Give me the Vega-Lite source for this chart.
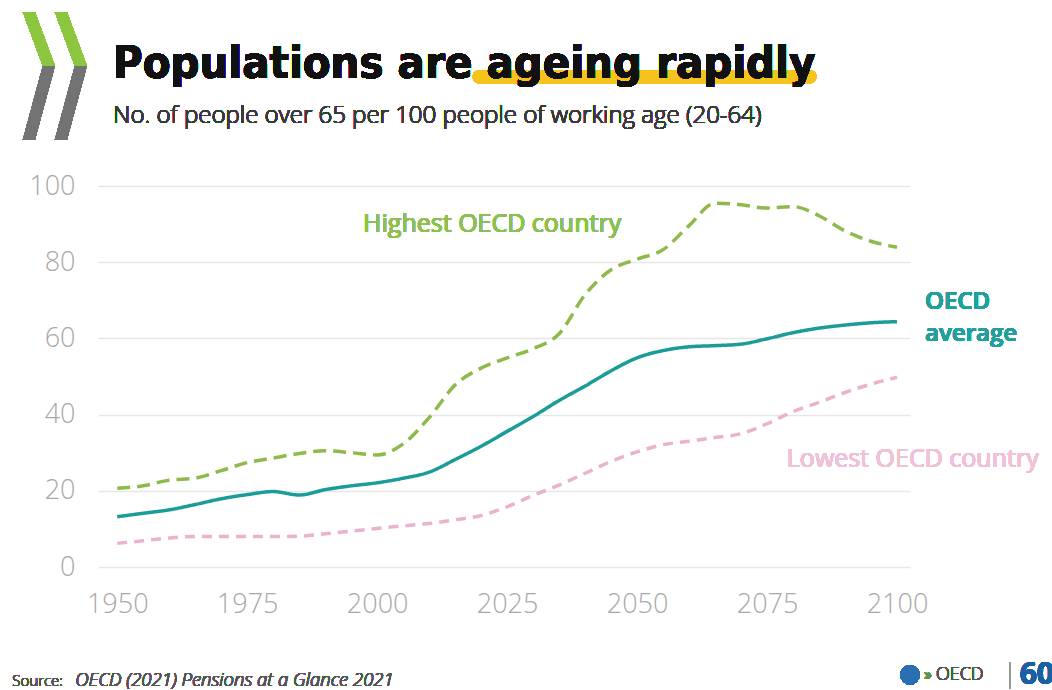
{
  "$schema": "https://vega.github.io/schema/vega-lite/v6.json",
  "width": 812,
  "height": 381,
  "autosize": {"type": "none"},
  "padding": {"left": 98, "top": 186, "right": 142, "bottom": 123},
  "background": "white",
  "config": {
    "view": {"stroke": null},
    "axis": {
      "domain": false,
      "ticks": false,
      "labelFont": "Open Sans",
      "labelFontSize": 27,
      "labelFontWeight": 300,
      "labelColor": "#a8a8a8",
      "titleColor": "#a8a8a8"
    }
  },
  "data": {
    "values": [
      {"year": 1950, "series": "Highest OECD country", "value": 20.7},
      {"year": 1955, "series": "Highest OECD country", "value": 21.3},
      {"year": 1960, "series": "Highest OECD country", "value": 22.8},
      {"year": 1965, "series": "Highest OECD country", "value": 23.3},
      {"year": 1970, "series": "Highest OECD country", "value": 25.3},
      {"year": 1975, "series": "Highest OECD country", "value": 27.4},
      {"year": 1980, "series": "Highest OECD country", "value": 28.6},
      {"year": 1985, "series": "Highest OECD country", "value": 29.8},
      {"year": 1990, "series": "Highest OECD country", "value": 30.5},
      {"year": 1995, "series": "Highest OECD country", "value": 30.0},
      {"year": 2000, "series": "Highest OECD country", "value": 29.4},
      {"year": 2005, "series": "Highest OECD country", "value": 32.3},
      {"year": 2010, "series": "Highest OECD country", "value": 39.2},
      {"year": 2015, "series": "Highest OECD country", "value": 47.8},
      {"year": 2020, "series": "Highest OECD country", "value": 52.2},
      {"year": 2025, "series": "Highest OECD country", "value": 54.9},
      {"year": 2030, "series": "Highest OECD country", "value": 57.3},
      {"year": 2035, "series": "Highest OECD country", "value": 61.2},
      {"year": 2040, "series": "Highest OECD country", "value": 71.5},
      {"year": 2045, "series": "Highest OECD country", "value": 78.0},
      {"year": 2050, "series": "Highest OECD country", "value": 80.8},
      {"year": 2055, "series": "Highest OECD country", "value": 83.3},
      {"year": 2060, "series": "Highest OECD country", "value": 89.6},
      {"year": 2065, "series": "Highest OECD country", "value": 95.5},
      {"year": 2070, "series": "Highest OECD country", "value": 95.1},
      {"year": 2075, "series": "Highest OECD country", "value": 94.2},
      {"year": 2080, "series": "Highest OECD country", "value": 94.6},
      {"year": 2085, "series": "Highest OECD country", "value": 92.2},
      {"year": 2090, "series": "Highest OECD country", "value": 88.2},
      {"year": 2095, "series": "Highest OECD country", "value": 85.5},
      {"year": 2100, "series": "Highest OECD country", "value": 83.9},
      {"year": 1950, "series": "OECD average", "value": 13.2},
      {"year": 1955, "series": "OECD average", "value": 14.1},
      {"year": 1960, "series": "OECD average", "value": 15.0},
      {"year": 1965, "series": "OECD average", "value": 16.4},
      {"year": 1970, "series": "OECD average", "value": 17.9},
      {"year": 1975, "series": "OECD average", "value": 19.0},
      {"year": 1980, "series": "OECD average", "value": 19.8},
      {"year": 1985, "series": "OECD average", "value": 18.9},
      {"year": 1990, "series": "OECD average", "value": 20.3},
      {"year": 1995, "series": "OECD average", "value": 21.3},
      {"year": 2000, "series": "OECD average", "value": 22.1},
      {"year": 2005, "series": "OECD average", "value": 23.3},
      {"year": 2010, "series": "OECD average", "value": 24.9},
      {"year": 2015, "series": "OECD average", "value": 28.2},
      {"year": 2020, "series": "OECD average", "value": 31.7},
      {"year": 2025, "series": "OECD average", "value": 35.6},
      {"year": 2030, "series": "OECD average", "value": 39.5},
      {"year": 2035, "series": "OECD average", "value": 43.7},
      {"year": 2040, "series": "OECD average", "value": 47.5},
      {"year": 2045, "series": "OECD average", "value": 51.5},
      {"year": 2050, "series": "OECD average", "value": 54.9},
      {"year": 2055, "series": "OECD average", "value": 56.8},
      {"year": 2060, "series": "OECD average", "value": 57.8},
      {"year": 2065, "series": "OECD average", "value": 58.1},
      {"year": 2070, "series": "OECD average", "value": 58.5},
      {"year": 2075, "series": "OECD average", "value": 59.9},
      {"year": 2080, "series": "OECD average", "value": 61.5},
      {"year": 2085, "series": "OECD average", "value": 62.7},
      {"year": 2090, "series": "OECD average", "value": 63.5},
      {"year": 2095, "series": "OECD average", "value": 64.1},
      {"year": 2100, "series": "OECD average", "value": 64.4},
      {"year": 1950, "series": "Lowest OECD country", "value": 6.2},
      {"year": 1955, "series": "Lowest OECD country", "value": 6.9},
      {"year": 1960, "series": "Lowest OECD country", "value": 7.6},
      {"year": 1965, "series": "Lowest OECD country", "value": 8.0},
      {"year": 1970, "series": "Lowest OECD country", "value": 8.0},
      {"year": 1975, "series": "Lowest OECD country", "value": 8.0},
      {"year": 1980, "series": "Lowest OECD country", "value": 8.0},
      {"year": 1985, "series": "Lowest OECD country", "value": 8.1},
      {"year": 1990, "series": "Lowest OECD country", "value": 8.7},
      {"year": 1995, "series": "Lowest OECD country", "value": 9.4},
      {"year": 2000, "series": "Lowest OECD country", "value": 10.1},
      {"year": 2005, "series": "Lowest OECD country", "value": 10.8},
      {"year": 2010, "series": "Lowest OECD country", "value": 11.4},
      {"year": 2015, "series": "Lowest OECD country", "value": 12.4},
      {"year": 2020, "series": "Lowest OECD country", "value": 13.5},
      {"year": 2025, "series": "Lowest OECD country", "value": 15.8},
      {"year": 2030, "series": "Lowest OECD country", "value": 18.8},
      {"year": 2035, "series": "Lowest OECD country", "value": 21.5},
      {"year": 2040, "series": "Lowest OECD country", "value": 24.6},
      {"year": 2045, "series": "Lowest OECD country", "value": 27.7},
      {"year": 2050, "series": "Lowest OECD country", "value": 30.2},
      {"year": 2055, "series": "Lowest OECD country", "value": 32.1},
      {"year": 2060, "series": "Lowest OECD country", "value": 33.0},
      {"year": 2065, "series": "Lowest OECD country", "value": 34.0},
      {"year": 2070, "series": "Lowest OECD country", "value": 35.0},
      {"year": 2075, "series": "Lowest OECD country", "value": 37.6},
      {"year": 2080, "series": "Lowest OECD country", "value": 40.8},
      {"year": 2085, "series": "Lowest OECD country", "value": 43.2},
      {"year": 2090, "series": "Lowest OECD country", "value": 45.8},
      {"year": 2095, "series": "Lowest OECD country", "value": 48.0},
      {"year": 2100, "series": "Lowest OECD country", "value": 49.8}
    ]
  },
  "layer": [
    {
      "mark": {"type": "rect", "color": "#f6c21c", "cornerRadius": 6, "clip": false},
      "encoding": {
        "x": {"datum": 2018.4, "type": "quantitative", "scale": {"domain": [1946.3, 2102.5]}},
        "x2": {"datum": 2084.5},
        "y": {"datum": 130.4, "type": "quantitative", "scale": {"domain": [0, 100]}},
        "y2": {"datum": 127.0}
      }
    },
    {
      "mark": {"type": "text", "font": "DejaVu Sans Condensed, DejaVu Sans, sans-serif", "fontSize": 45, "fontWeight": "bold", "color": "#111111", "align": "left", "baseline": "alphabetic"},
      "encoding": {"x": {"datum": 1949.2}, "y": {"datum": 128.4}, "text": {"value": "Populations are ageing rapidly"}}
    },
    {
      "mark": {"type": "text", "font": "Open Sans", "fontSize": 24, "fontWeight": 300, "color": "#3a3a3a", "align": "left", "baseline": "alphabetic"},
      "encoding": {"x": {"datum": 1949.2}, "y": {"datum": 116.5}, "text": {"value": "No. of people over 65 per 100 people of working age (20-64)"}}
    },
    {
      "mark": {"type": "line", "interpolate": "monotone", "strokeWidth": 3.5},
      "encoding": {
        "x": {
          "field": "year",
          "type": "quantitative",
          "scale": {"domain": [1946.3, 2102.5], "nice": false, "zero": false},
          "axis": {"values": [1950, 1975, 2000, 2025, 2050, 2075, 2100], "format": "d", "title": null, "grid": false, "labelPadding": 24}
        },
        "y": {
          "field": "value",
          "type": "quantitative",
          "scale": {"domain": [0, 100], "nice": false},
          "axis": {"values": [0, 20, 40, 60, 80, 100], "title": null, "grid": true, "gridColor": "#e6e6e6", "gridWidth": 1.5, "labelPadding": 23}
        },
        "color": {
          "field": "series",
          "type": "nominal",
          "scale": {"domain": ["Highest OECD country", "OECD average", "Lowest OECD country"], "range": ["#8dba4a", "#1a9c98", "#eab2cf"]},
          "legend": null
        },
        "strokeDash": {
          "field": "series",
          "type": "nominal",
          "scale": {"domain": ["Highest OECD country", "OECD average", "Lowest OECD country"], "range": [[13, 7], [1, 0], [10, 7]]},
          "legend": null
        }
      }
    },
    {
      "mark": {"type": "text", "font": "Open Sans", "fontSize": 25, "color": "#8cc152", "align": "left", "baseline": "alphabetic"},
      "encoding": {"x": {"datum": 1997.3}, "y": {"datum": 87.9}, "text": {"value": "Highest OECD country"}}
    },
    {
      "mark": {"type": "text", "font": "Open Sans", "fontSize": 24, "fontWeight": 600, "color": "#23a09b", "align": "left", "baseline": "alphabetic"},
      "encoding": {"x": {"datum": 2105.4}, "y": {"datum": 67.7}, "text": {"value": "OECD"}}
    },
    {
      "mark": {"type": "text", "font": "Open Sans", "fontSize": 24, "fontWeight": 600, "color": "#23a09b", "align": "left", "baseline": "alphabetic"},
      "encoding": {"x": {"datum": 2105.4}, "y": {"datum": 59.3}, "text": {"value": "average"}}
    },
    {
      "mark": {"type": "text", "font": "Open Sans", "fontSize": 25, "color": "#f0c2da", "align": "left", "baseline": "alphabetic"},
      "encoding": {"x": {"datum": 2078.8}, "y": {"datum": 26.2}, "text": {"value": "Lowest OECD country"}}
    },
    {
      "mark": {"type": "point", "filled": true, "strokeWidth": 0, "opacity": 1, "color": "#8cc63f", "size": 16129,
        "shape": "M-0.504,-1.024L-0.315,-1.024L0,-0.173L-0.189,-0.173Z M0,-1.024L0.189,-1.024L0.504,-0.173L0.315,-0.173Z"},
      "encoding": {"x": {"datum": 1938.0}, "y": {"datum": 128.6}}
    },
    {
      "mark": {"type": "point", "filled": true, "strokeWidth": 0, "opacity": 1, "color": "#737373", "size": 16129,
        "shape": "M-0.189,-0.173L0,-0.173L-0.315,0.992L-0.504,0.992Z M0.315,-0.173L0.504,-0.173L0.189,0.992L0,0.992Z"},
      "encoding": {"x": {"datum": 1938.0}, "y": {"datum": 128.6}}
    },
    {
      "mark": {"type": "text", "font": "Open Sans", "fontSize": 15, "fontWeight": 300, "color": "#555555", "align": "left", "baseline": "alphabetic"},
      "encoding": {"x": {"datum": 1929.8}, "y": {"datum": -31.2}, "text": {"value": "Source:"}}
    },
    {
      "mark": {"type": "text", "font": "Open Sans", "fontSize": 18.5, "fontWeight": 300, "fontStyle": "italic", "color": "#555555", "align": "left", "baseline": "alphabetic"},
      "encoding": {"x": {"datum": 1941.9}, "y": {"datum": -31.2}, "text": {"value": "OECD (2021) Pensions at a Glance 2021"}}
    },
    {
      "mark": {"type": "point", "filled": true, "strokeWidth": 0, "opacity": 1, "color": "#2a6fb0", "size": 380, "shape": "circle"},
      "encoding": {"x": {"datum": 2102.5}, "y": {"datum": -28.3}}
    },
    {
      "mark": {"type": "text", "font": "Open Sans", "fontSize": 16, "color": "#5b9a3c", "align": "left", "baseline": "middle"},
      "encoding": {"x": {"datum": 2105.2}, "y": {"datum": -28.3}, "text": {"value": "»"}}
    },
    {
      "mark": {"type": "text", "font": "Open Sans", "fontSize": 18, "fontWeight": 300, "color": "#555555", "align": "left", "baseline": "middle"},
      "encoding": {"x": {"datum": 2107.5}, "y": {"datum": -28.3}, "text": {"value": "OECD"}}
    },
    {
      "mark": {"type": "rule", "color": "#999999", "strokeWidth": 1.5},
      "encoding": {"x": {"datum": 2121.7}, "y": {"datum": -25.0}, "y2": {"datum": -32.0}}
    },
    {
      "mark": {"type": "text", "font": "Open Sans", "fontSize": 30, "fontWeight": "bold", "color": "#1d5fa3", "align": "left", "baseline": "middle"},
      "encoding": {"x": {"datum": 2123.6}, "y": {"datum": -28.3}, "text": {"value": "60"}}
    }
  ]
}
